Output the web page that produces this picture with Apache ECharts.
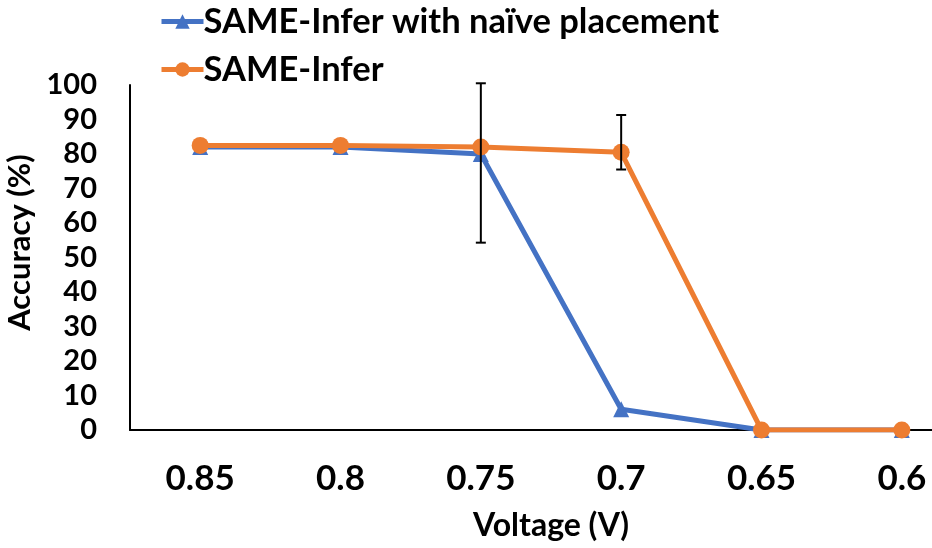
<!DOCTYPE html>
<html>
<head>
<meta charset="utf-8">
<script src="https://cdn.jsdelivr.net/npm/echarts@6/dist/echarts.min.js"></script>
<style>html,body{margin:0;padding:0;background:#fff;overflow:hidden;width:932px;height:548px}#c{width:972px;height:548px}</style>
</head>
<body>
<div id="c"></div>
<script>
const categories = ['0.85', '0.8', '0.75', '0.7', '0.65', '0.6'];
const naiveValues = [82, 82, 80, 6, 0, 0];
const inferValues = [82.5, 82.5, 82, 80.5, 0, 0];
const errorCategories = ['0.75', '0.7'];
const errorLow = [54.3, 75.5];
const errorHigh = [100.5, 91.3];
const yTicks = [0, 10, 20, 30, 40, 50, 60, 70, 80, 90, 100];

const FONT = 'Lato';
const errorData = errorCategories.map((c, i) => [categories.indexOf(c), errorLow[i], errorHigh[i]]);

const chart = echarts.init(document.getElementById('c'));
chart.setOption({
  animation: false,
  textStyle: { fontFamily: FONT },
  grid: { left: 130, top: 85, height: 345, right: 0, containLabel: false, outerBoundsMode: 'none' },
  legend: {
    orient: 'vertical',
    left: 154,
    top: -1,
    itemGap: 13,
    itemWidth: 42,
    itemHeight: 18,
    lineStyle: { width: 5 },
    data: ['SAME-Infer with naïve placement', 'SAME-Infer'],
    textStyle: { fontFamily: FONT, fontWeight: 'bold', fontSize: 34.5, color: '#000', padding: [0, 0, 0, -5] }
  },
  xAxis: {
    type: 'category',
    data: categories,
    boundaryGap: true,
    axisLine: { lineStyle: { color: '#000', width: 2 } },
    axisTick: { show: false },
    axisLabel: { fontFamily: FONT, fontWeight: 'bold', fontSize: 35, color: '#000', margin: 31 },
    name: 'Voltage (V)',
    nameLocation: 'middle',
    nameGap: 80,
    nameTextStyle: { fontFamily: FONT, fontWeight: 'bold', fontSize: 32, color: '#000' }
  },
  yAxis: {
    type: 'value',
    min: 0,
    max: 100,
    interval: 10,
    splitLine: { show: false },
    axisLine: { show: true, lineStyle: { color: '#000', width: 2 } },
    axisTick: { show: false },
    axisLabel: { fontFamily: FONT, fontWeight: 'bold', fontSize: 29, color: '#000', margin: 33 },
    name: 'Accuracy (%)',
    nameLocation: 'middle',
    nameGap: 87,
    nameTextStyle: { fontFamily: FONT, fontWeight: 'bold', fontSize: 31, color: '#000', padding: [0, 0, 0, 30] }
  },
  series: [
    {
      name: 'SAME-Infer with naïve placement',
      type: 'line',
      data: naiveValues,
      symbol: 'triangle',
      symbolSize: 16,
      lineStyle: { color: '#4472C4', width: 5 },
      itemStyle: { color: '#4472C4' },
      z: 2
    },
    {
      name: 'SAME-Infer',
      type: 'line',
      data: inferValues,
      symbol: 'circle',
      symbolSize: 17,
      lineStyle: { color: '#ED7D31', width: 5 },
      itemStyle: { color: '#ED7D31' },
      z: 3
    },
    {
      type: 'custom',
      data: errorData,
      z: 4,
      renderItem: function (params, api) {
        const x = api.value(0);
        const lo = api.coord([x, api.value(1)]);
        const hi = api.coord([x, api.value(2)]);
        const cap = 5;
        const style = { stroke: '#000', lineWidth: 2 };
        return {
          type: 'group',
          children: [
            { type: 'line', shape: { x1: lo[0], y1: lo[1], x2: hi[0], y2: hi[1] }, style },
            { type: 'line', shape: { x1: lo[0] - cap, y1: lo[1], x2: lo[0] + cap, y2: lo[1] }, style },
            { type: 'line', shape: { x1: hi[0] - cap, y1: hi[1], x2: hi[0] + cap, y2: hi[1] }, style }
          ]
        };
      }
    }
  ]
});
</script>
</body>
</html>
